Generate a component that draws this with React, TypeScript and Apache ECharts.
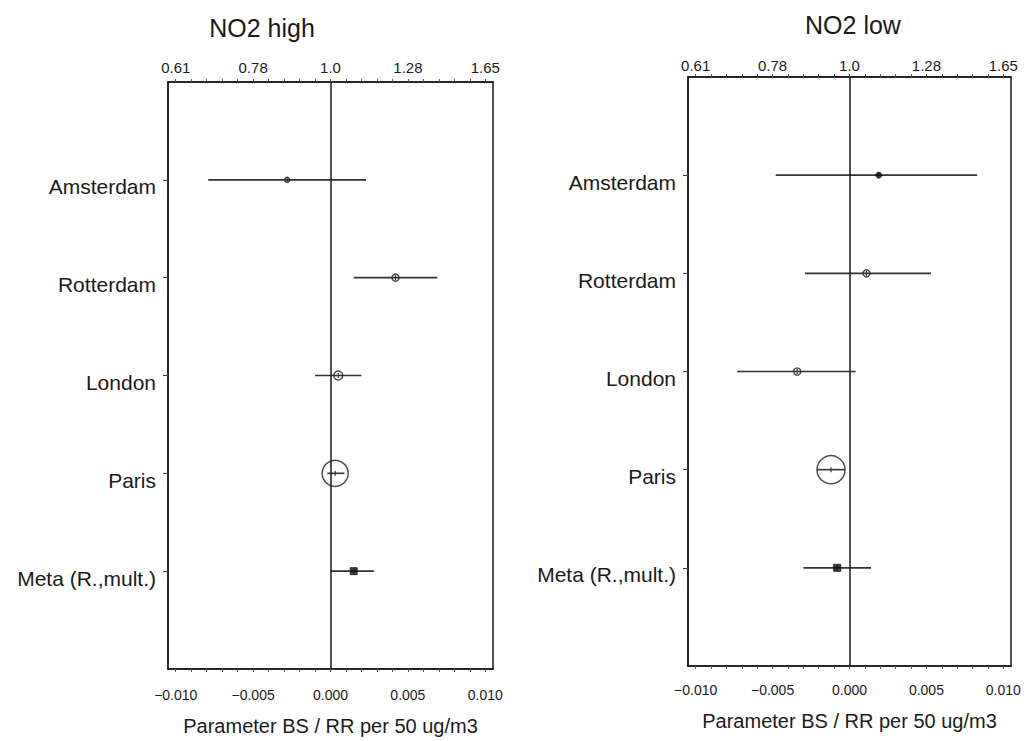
import React, { useEffect, useRef } from "react";
import * as echarts from "echarts";

const cities = ["Amsterdam", "Rotterdam", "London", "Paris", "Meta (R.,mult.)"];
const rowPositions = [1, 2, 3, 4, 5];
const tickValues = [-0.01, -0.005, 0, 0.005, 0.01];
const bottomTickLabels = ["\u22120.010", "\u22120.005", "0.000", "0.005", "0.010"];
const topTickLabels = ["0.61", "0.78", "1.0", "1.28", "1.65"];
const minorTickValues = [
  -0.01, -0.009, -0.008, -0.007, -0.006, -0.005, -0.004, -0.003, -0.002, -0.001, 0,
  0.001, 0.002, 0.003, 0.004, 0.005, 0.006, 0.007, 0.008, 0.009, 0.01,
];

// NO2 high panel
const highEst = [-0.0028, 0.0042, 0.0005, 0.0003, 0.0015];
const highLow = [-0.0079, 0.0015, -0.001, -0.0002, 0.0];
const highUp = [0.0023, 0.0069, 0.002, 0.0009, 0.0028];
const highSize = [5, 7, 9, 26, 7];
const highSymbol = ["circle", "circle", "circle", "circle", "rect"];
const highFilled = [false, false, false, false, true];

// NO2 low panel
const lowEst = [0.0019, 0.0011, -0.0034, -0.0012, -0.0008];
const lowLow = [-0.0048, -0.0029, -0.0073, -0.0021, -0.003];
const lowUp = [0.0083, 0.0053, 0.0004, -0.0003, 0.0014];
const lowSize = [6, 7, 7, 28, 7];
const lowSymbol = ["circle", "circle", "circle", "circle", "rect"];
const lowFilled = [true, false, false, false, true];

const panelTitles = ["NO2 high", "NO2 low"];
const axisTitle = "Parameter BS / RR per 50 ug/m3";

const FONT = "'Liberation Sans', Arial, sans-serif";
const INK = "#1a1a1a";

export default function App() {
  const ref = useRef<HTMLDivElement>(null);

  useEffect(() => {
    if (!ref.current) return;
    const chart = echarts.init(ref.current, undefined, { renderer: "svg" });

    const grids = [
      { left: 168, top: 82, width: 325, height: 588 },
      { left: 688, top: 77, width: 323, height: 589 },
    ];
    const panels = [
      { est: highEst, lo: highLow, up: highUp, size: highSize, sym: highSymbol, filled: highFilled },
      { est: lowEst, lo: lowLow, up: lowUp, size: lowSize, sym: lowSymbol, filled: lowFilled },
    ];

    const xAxes: any[] = [];
    const yAxes: any[] = [];
    const series: any[] = [];

    grids.forEach((g, i) => {
      xAxes.push({
        type: "value",
        gridIndex: i,
        position: "bottom",
        min: -0.0105,
        max: 0.0105,
        name: axisTitle,
        nameLocation: "middle",
        nameGap: i === 0 ? 47 : 45,
        nameTextStyle: { fontFamily: FONT, fontSize: 20, color: INK },
        axisLine: { show: true, onZero: false, lineStyle: { color: INK, width: 1.5 } },
        axisTick: {
          show: true,
          customValues: minorTickValues,
          length: 3,
          lineStyle: { color: "#555", width: 1 },
        },
        axisLabel: {
          show: true,
          customValues: tickValues,
          margin: i === 0 ? 19 : 17,
          fontFamily: FONT,
          fontSize: 14,
          color: INK,
          formatter: (v: number) => {
            const k = tickValues.findIndex((t) => Math.abs(t - v) < 1e-9);
            return k >= 0 ? bottomTickLabels[k] : "";
          },
        },
        splitLine: { show: false },
      });
      xAxes.push({
        type: "value",
        gridIndex: i,
        position: "top",
        min: -0.0105,
        max: 0.0105,
        axisLine: { show: true, onZero: false, lineStyle: { color: INK, width: 1.5 } },
        axisTick: {
          show: true,
          customValues: minorTickValues,
          length: 3,
          lineStyle: { color: "#555", width: 1 },
        },
        axisLabel: {
          show: true,
          customValues: tickValues,
          margin: i === 0 ? 7 : 4,
          fontFamily: FONT,
          fontSize: 15,
          color: INK,
          formatter: (v: number) => {
            const k = tickValues.findIndex((t) => Math.abs(t - v) < 1e-9);
            return k >= 0 ? topTickLabels[k] : "";
          },
        },
        splitLine: { show: false },
      });
      yAxes.push({
        type: "value",
        gridIndex: i,
        inverse: true,
        min: 0,
        max: 6,
        interval: 1,
        axisLine: { show: true, onZero: false, lineStyle: { color: INK, width: 1.5 } },
        axisTick: {
          show: true,
          customValues: rowPositions,
          length: 5,
          lineStyle: { color: "#444", width: 1 },
        },
        axisLabel: {
          show: true,
          customValues: rowPositions,
          margin: 12,
          fontFamily: FONT,
          fontSize: 21,
          color: INK,
          verticalAlign: "top",
          lineHeight: 14,
          formatter: (v: number) => {
            const k = rowPositions.indexOf(Math.round(v));
            return k >= 0 ? cities[k] : "";
          },
        },
        splitLine: { show: false },
      });

      const p = panels[i];
      const barData = cities.map((_, k) => [p.lo[k], p.up[k], rowPositions[k], p.est[k]]);
      series.push({
        type: "custom",
        xAxisIndex: i * 2,
        yAxisIndex: i,
        data: barData,
        encode: { x: [0, 1, 3], y: 2 },
        renderItem: (params: any, api: any) => {
          const lo = api.value(0);
          const up = api.value(1);
          const y = api.value(2);
          const est = api.value(3);
          const a = api.coord([lo, y]);
          const b = api.coord([up, y]);
          const c = api.coord([est, y]);
          return {
            type: "group",
            children: [
              {
                type: "line",
                shape: { x1: a[0], y1: a[1], x2: b[0], y2: b[1] },
                style: { stroke: "#333", lineWidth: 1.6 },
              },
              {
                type: "line",
                shape: { x1: c[0], y1: c[1] - 2.5, x2: c[0], y2: c[1] + 2.5 },
                style: { stroke: "#333", lineWidth: 1.2 },
              },
            ],
          };
        },
        markLine: {
          silent: true,
          symbol: ["none", "none"],
          label: { show: false },
          lineStyle: { color: INK, width: 1.5, type: "solid" },
          data: [{ xAxis: 0 }],
        },
        z: 2,
      });
      series.push({
        type: "scatter",
        xAxisIndex: i * 2,
        yAxisIndex: i,
        z: 3,
        data: cities.map((_, k) => ({
          value: [p.est[k], rowPositions[k]],
          symbol: p.sym[k],
          symbolSize: p.size[k],
          itemStyle: p.filled[k]
            ? { color: "#111", borderColor: "#111", borderWidth: 1 }
            : { color: "rgba(0,0,0,0)", borderColor: "#222", borderWidth: 1.5 },
        })),
      });
    });

    chart.setOption({
      animation: false,
      backgroundColor: "#ffffff",
      grid: grids.map((g) => ({
        ...g,
        show: true,
        borderColor: INK,
        borderWidth: 1.5,
        backgroundColor: "transparent",
      })),
      xAxis: xAxes,
      yAxis: yAxes,
      series,
      graphic: [
        {
          type: "text",
          x: 262,
          y: 28,
          style: {
            text: panelTitles[0],
            font: `25px ${FONT}`,
            fill: INK,
            textAlign: "center",
            textVerticalAlign: "middle",
          },
        },
        {
          type: "text",
          x: 853,
          y: 25,
          style: {
            text: panelTitles[1],
            font: `25px ${FONT}`,
            fill: INK,
            textAlign: "center",
            textVerticalAlign: "middle",
          },
        },
      ],
    });

    return () => chart.dispose();
  }, []);

  return (
    <div
      ref={ref}
      style={{ position: "absolute", left: 0, top: 0, width: 1033, height: 741, background: "#fff" }}
    />
  );
}
